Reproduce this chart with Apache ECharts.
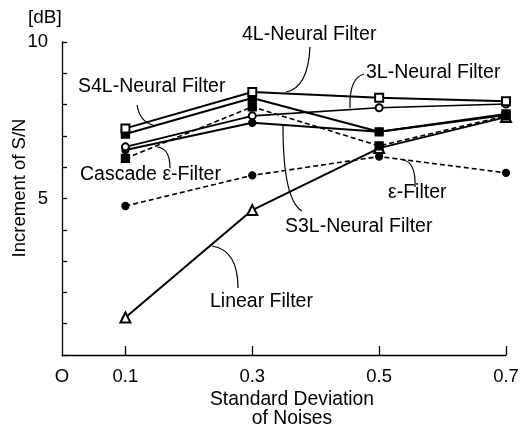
<!DOCTYPE html>
<html>
<head>
<meta charset="utf-8">
<script src="https://cdn.jsdelivr.net/npm/echarts@6/dist/echarts.min.js"></script>
<style>
html,body{margin:0;padding:0;background:#fff;}
#chart{width:523px;height:434px;}
</style>
</head>
<body>
<div id="chart"></div>
<script>
// ---- data ----
const noiseStd = [0.1, 0.3, 0.5, 0.7];
const fourLNeural   = [7.24, 8.40, 8.22, 8.11];
const s4LNeural     = [7.06, 8.21, 7.13, 7.70];
const threeLNeural  = [6.65, 7.64, 7.90, 8.02];
const s3LNeural     = [6.55, 7.42, 7.13, 7.67];
const cascadeEps    = [6.28, 7.93, 6.68, 7.64];
const epsFilter     = [4.76, 5.74, 6.34, 5.82];
const linearFilter  = [1.20, 4.63, 6.61, 7.60];
const xTickValues  = [0.1, 0.3, 0.5, 0.7];
const xLabelValues = [0, 0.1, 0.3, 0.5, 0.7];
const yLabelValues = [5, 10];

const FONT = "'Liberation Sans', Arial, Helvetica, sans-serif";
const pairs = arr => noiseStd.map((x, i) => [x, arr[i]]);

function lineSeries(name, data, symbol, size, dashed, width) {
  return {
    name, type: 'line', data: pairs(data),
    symbol, symbolSize: size,
    itemStyle: { color: '#000', borderColor: '#000', borderWidth: 1.3 },
    lineStyle: { color: '#000', width: width, type: dashed ? [5, 3] : 'solid' },
    emphasis: { disabled: true }, z: 3, animation: false
  };
}

const chart = echarts.init(document.getElementById('chart'), null, { renderer: 'canvas' });

const txt = (text, x, y, align, rot, size) => ({
  type: 'text', x, y, rotation: rot || 0,
  style: { text, fill: '#000', font: (size || 19.5) + 'px ' + FONT, textAlign: align || 'left', textVerticalAlign: 'middle' },
  z: 10
});
const curve = (x1, y1, cx, cy, x2, y2) => ({
  type: 'bezierCurve',
  shape: { x1, y1, x2, y2, cpx1: cx, cpy1: cy },
  style: { stroke: '#000', lineWidth: 1.2, fill: null },
  z: 10
});

chart.setOption({
  backgroundColor: '#fff',
  animation: false,
  grid: { left: 62, top: 42, right: 17, bottom: 79 },
  xAxis: {
    type: 'value', min: 0, max: 0.7, interval: 0.1,
    axisLine: { lineStyle: { color: '#000', width: 1.3 } },
    axisTick: { inside: true, length: 9, customValues: xTickValues, lineStyle: { color: '#000', width: 1.3 } },
    axisLabel: { customValues: xLabelValues, color: '#000', fontSize: 18.5, fontFamily: FONT, margin: 12,
      formatter: v => (v === 0 ? 'O' : String(v)) },
    splitLine: { show: false }
  },
  yAxis: {
    type: 'value', min: 0, max: 10, interval: 1,
    axisLine: { show: true, lineStyle: { color: '#000', width: 1.3 } },
    axisTick: { show: true, inside: true, length: 5, lineStyle: { color: '#000', width: 1.3 } },
    axisLabel: { customValues: yLabelValues, color: '#000', fontSize: 18.5, fontFamily: FONT, margin: 14 },
    splitLine: { show: false }
  },
  series: [
    lineSeries('Linear Filter', linearFilter, 'emptyTriangle', 10, false, 2),
    lineSeries('ε-Filter', epsFilter, 'circle', 7, true, 1.6),
    lineSeries('Cascade ε-Filter', cascadeEps, 'rect', 8, true, 1.6),
    lineSeries('S3L-Neural Filter', s3LNeural, 'circle', 7, false, 2),
    lineSeries('3L-Neural Filter', threeLNeural, 'emptyCircle', 7, false, 1.6),
    lineSeries('S4L-Neural Filter', s4LNeural, 'rect', 8, false, 2),
    lineSeries('4L-Neural Filter', fourLNeural, 'emptyRect', 8, false, 2)
  ],
  graphic: [
    txt('[dB]', 28, 18, 'left', 0, 19),
    txt('Increment of S/N', 20, 188, 'center', Math.PI / 2, 18.5),
    txt('Standard Deviation', 292, 400, 'center', 0, 19.3),
    txt('of Noises', 292, 419, 'center', 0, 19.3),
    txt('4L-Neural Filter', 242, 35),
    txt('3L-Neural Filter', 366, 73),
    txt('S4L-Neural Filter', 78, 87),
    txt('Cascade ε-Filter', 80, 175),
    txt('ε-Filter', 388, 193),
    txt('S3L-Neural Filter', 285, 227),
    txt('Linear Filter', 210, 302),
    curve(310, 47, 308, 88, 286, 92),
    curve(364, 74, 349, 78, 350, 108),
    curve(137, 105, 140, 122, 153, 125),
    curve(170, 168, 170, 148, 157, 147),
    curve(415, 187, 416, 162, 403, 160),
    curve(302, 211, 283, 200, 283, 126),
    curve(238, 288, 238, 250, 212, 246)
  ]
});
</script>
</body>
</html>
